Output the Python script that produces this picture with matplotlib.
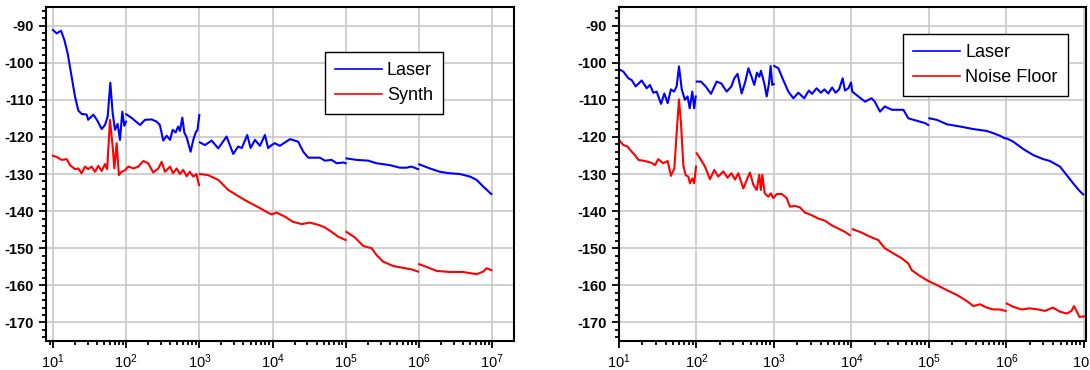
import numpy as np
import matplotlib
matplotlib.use("Agg")
import matplotlib.pyplot as plt
from matplotlib.ticker import MultipleLocator, FixedLocator, LogLocator, NullFormatter

plt.rcParams['font.family'] = ['Liberation Sans', 'DejaVu Sans']
plt.rcParams['mathtext.fontset'] = 'custom'
plt.rcParams['mathtext.rm'] = 'Liberation Sans:bold'
plt.rcParams['mathtext.it'] = 'Liberation Sans:bold'
plt.rcParams['axes.unicode_minus'] = False

nan = np.nan

# frequency as decade exponent (10**x Hz), level in dBc/Hz; nan splits the sweep segments
synth_laser_x = [
    1.0, 1.05, 1.11, 1.155, 1.20, 1.246, 1.30, 1.346, 1.39, 1.46, 1.48, 1.55, 1.60, 1.665,
    1.71, 1.747, 1.783, 1.815, 1.847, 1.883, 1.915, 1.947, 1.974, 1.997, nan,
    2.0, 2.075, 2.19, 2.257, 2.35, 2.416, 2.46, 2.507, 2.553, 2.60, 2.635, 2.676, 2.71,
    2.735, 2.767, 2.794, 2.826, 2.88, 2.917, 2.95, 2.975, 2.999, nan,
    3.008, 3.076, 3.168, 3.258, 3.372, 3.463, 3.53, 3.58, 3.654, 3.70, 3.76, 3.828, 3.896,
    3.94, 3.988, 4.03, 4.10, 4.24, 4.35, 4.42, 4.488, 4.647, 4.716, 4.807, 4.876, 4.97, 5.0, nan,
    5.01, 5.149, 5.307, 5.42, 5.60, 5.74, 5.83, 5.90, 5.99, nan,
    6.004, 6.15, 6.287, 6.42, 6.56, 6.70, 6.79, 6.88, 6.99,
]
synth_laser_y = [
    -91.2, -92.1, -91.4, -93.9, -97.5, -102.8, -109.1, -112.9, -113.8, -114.0, -115.4, -114.0,
    -115.4, -117.9, -116.8, -114.5, -105.4, -113.6, -118.1, -116.5, -120.8, -113.2, -117.0, -115.9, nan,
    -113.9, -114.9, -116.8, -115.4, -115.3, -115.9, -116.8, -121.0, -119.7, -120.8, -118.1,
    -118.8, -117.2, -118.4, -114.8, -118.8, -120.1, -124.0, -120.8, -118.8, -118.1, -114.1, nan,
    -121.5, -122.2, -121.0, -123.1, -119.9, -124.6, -122.6, -123.0, -119.5, -123.0, -120.8,
    -122.4, -119.5, -123.0, -122.2, -121.7, -122.4, -120.6, -121.3, -124.0, -125.6, -125.6,
    -126.4, -126.2, -127.1, -126.9, -127.1, nan,
    -125.8, -126.2, -126.4, -127.1, -127.6, -128.3, -128.3, -128.0, -128.7, nan,
    -127.4, -128.5, -129.4, -129.8, -130.0, -130.7, -131.6, -133.4, -135.4,
]

synth_x = [
    1.0, 1.05, 1.118, 1.187, 1.232, 1.30, 1.346, 1.39, 1.437, 1.48, 1.528, 1.574, 1.619, 1.665,
    1.71, 1.74, 1.779, 1.815, 1.838, 1.87, 1.90, 1.938, 1.983,
    2.03, 2.10, 2.166, 2.234, 2.30, 2.37, 2.44, 2.485, 2.53, 2.60, 2.64, 2.69, 2.735, 2.78,
    2.826, 2.87, 2.917, 2.96, 2.995, nan,
    3.008, 3.12, 3.26, 3.395, 3.51, 3.62, 3.828, 3.955, 3.988, 4.056, 4.17, 4.28, 4.40, 4.51,
    4.624, 4.716, 4.807, 4.898, 5.0, nan,
    5.01, 5.126, 5.24, 5.354, 5.42, 5.51, 5.65, 5.785, 5.90, 5.99, nan,
    6.004, 6.10, 6.24, 6.42, 6.60, 6.79, 6.88, 6.925, 6.99,
]
synth_y = [
    -125.1, -125.4, -126.2, -126.0, -127.6, -128.7, -128.5, -129.8, -128.0, -128.7, -128.0,
    -129.4, -127.8, -129.2, -127.3, -128.7, -115.4, -122.6, -128.5, -121.7, -130.3, -129.4, -129.0,
    -128.0, -128.5, -128.0, -126.5, -127.1, -129.6, -128.5, -126.7, -129.4, -128.0, -129.8,
    -128.5, -130.0, -128.9, -130.6, -129.4, -130.7, -130.0, -133.0, nan,
    -130.0, -130.3, -131.6, -134.3, -135.7, -137.0, -139.2, -140.6, -140.9, -140.4, -141.5,
    -142.9, -143.5, -143.1, -143.7, -144.4, -145.6, -146.9, -147.8, nan,
    -145.6, -147.1, -149.4, -150.0, -151.8, -153.6, -154.8, -155.3, -155.7, -156.3, nan,
    -154.3, -155.0, -156.1, -156.4, -156.4, -157.0, -156.3, -155.4, -155.9,
]

floor_laser_x = [
    1.0, 1.056, 1.12, 1.164, 1.215, 1.293, 1.357, 1.40, 1.443, 1.486, 1.542, 1.585, 1.628, 1.67,
    1.71, 1.744, 1.774, 1.81, 1.85, 1.885, 1.912, 1.946, 1.97, 1.99, nan,
    2.003, 2.058, 2.118, 2.187, 2.26, 2.32, 2.39, 2.45, 2.488, 2.53, 2.583, 2.63, 2.67, 2.71,
    2.746, 2.78, 2.81, 2.832, 2.875, 2.906, 2.935, 2.957, 2.978, 2.996, nan,
    3.004, 3.056, 3.12, 3.185, 3.25, 3.314, 3.39, 3.45, 3.49, 3.55, 3.605, 3.65, 3.70, 3.75,
    3.795, 3.84, 3.886, 3.915, 3.96, 3.994, 4.01, 4.088, 4.174, 4.26, 4.30, 4.368, 4.43, 4.52,
    4.67, 4.733, 4.80, 4.884, 4.95, 4.99, nan,
    5.005, 5.10, 5.23, 5.40, 5.573, 5.745, 5.83, 5.916, 5.98,
    6.003, 6.088, 6.218, 6.346, 6.475, 6.56, 6.69, 6.777, 6.86, 6.94, 6.99,
]
floor_laser_y = [
    -101.8, -102.4, -104.2, -104.7, -106.4, -104.8, -106.9, -106.0, -108.1, -107.8, -111.1,
    -108.3, -110.9, -107.2, -107.8, -106.4, -101.0, -107.2, -110.0, -109.1, -112.3, -107.8,
    -112.3, -109.1, nan,
    -105.1, -105.1, -106.4, -108.4, -105.1, -105.6, -107.8, -106.4, -104.2, -103.0, -108.3,
    -105.1, -101.5, -103.8, -106.0, -102.7, -103.8, -102.2, -105.6, -109.1, -105.6, -100.9,
    -106.0, -105.8, nan,
    -100.9, -101.5, -104.7, -107.8, -109.6, -108.1, -109.6, -107.5, -108.4, -106.9, -108.1,
    -107.2, -108.3, -106.7, -108.1, -107.2, -104.2, -107.5, -106.9, -105.3, -107.8, -109.1,
    -110.5, -109.6, -110.5, -113.2, -111.8, -112.7, -112.7, -115.0, -115.4, -115.9, -116.3, -116.8, nan,
    -115.0, -115.4, -116.6, -117.2, -117.9, -118.4, -119.0, -119.7, -120.4,
    -120.4, -121.3, -123.3, -124.9, -126.0, -126.5, -128.0, -130.3, -132.5, -134.5, -135.5,
]

floor_x = [
    1.0, 1.056, 1.11, 1.164, 1.206, 1.25, 1.335, 1.42, 1.465, 1.507, 1.57, 1.628, 1.67, 1.714,
    1.744, 1.774, 1.80, 1.83, 1.86, 1.894, 1.916, 1.946, 1.97, 1.994, nan,
    2.003, 2.058, 2.11, 2.174, 2.23, 2.28, 2.346, 2.40, 2.45, 2.497, 2.54, 2.604, 2.66, 2.69,
    2.735, 2.777, 2.81, 2.83, 2.85, 2.88, 2.927, 2.96, 2.99,
    3.035, 3.10, 3.164, 3.206, 3.27, 3.335, 3.40, 3.486, 3.572, 3.658, 3.744, 3.83, 3.916, 3.98, nan,
    4.016, 4.11, 4.24, 4.346, 4.43, 4.54, 4.648, 4.733, 4.777, 4.884, 4.99, 5.10, 5.23, 5.36,
    5.486, 5.573, 5.658, 5.745, 5.83, 5.916, 5.99, nan,
    6.003, 6.088, 6.196, 6.30, 6.41, 6.497, 6.60, 6.69, 6.777, 6.84, 6.87, 6.91, 6.94, 7.0,
]
floor_y = [
    -120.8, -122.2, -122.6, -124.0, -124.9, -126.2, -126.5, -127.0, -127.6, -126.0, -127.1,
    -126.5, -130.5, -128.5, -119.0, -109.9, -116.3, -127.6, -130.3, -130.7, -132.5, -131.2,
    -132.5, -128.0, nan,
    -124.4, -126.2, -128.0, -131.4, -128.9, -130.7, -129.3, -131.0, -129.8, -131.5, -129.8,
    -133.9, -131.0, -129.6, -133.0, -134.3, -130.2, -134.3, -130.2, -135.2, -136.1, -135.2, -136.5,
    -135.4, -135.4, -136.5, -138.8, -138.6, -139.0, -140.4, -141.1, -142.0, -142.6, -143.8,
    -144.7, -145.6, -146.5, nan,
    -144.9, -145.6, -146.9, -147.8, -150.0, -151.4, -152.7, -154.1, -155.9, -157.5, -158.8,
    -159.9, -161.3, -162.6, -164.2, -165.6, -165.1, -166.0, -166.5, -166.5, -166.9, nan,
    -164.9, -165.8, -166.5, -166.2, -166.5, -166.9, -166.0, -167.1, -167.6, -166.9, -165.6,
    -167.1, -168.5, -168.4,
]

decades = [1e1, 1e2, 1e3, 1e4, 1e5, 1e6, 1e7]

panels = [
    (synth_laser_x, synth_laser_y, synth_x, synth_y, "Synth"),
    (floor_laser_x, floor_laser_y, floor_x, floor_y, "Noise Floor"),
]

fig = plt.figure(figsize=(10.9, 3.7), dpi=100)
ax_left = fig.add_axes([46 / 1090, 29 / 370, 468 / 1090, 334 / 370])
ax_right = fig.add_axes([619 / 1090, 29 / 370, 467 / 1090, 334 / 370])
xlims = [(10 ** 0.904, 10 ** 7.30), (10, 10 ** 7.026)]
legend_anchor = [(0.848, 0.865), (0.961, 0.919)]

for i, ax in enumerate([ax_left, ax_right]):
    lx, ly, nx, ny, name = panels[i]
    ax.plot(np.power(10.0, lx), ly, color="#0000ff", lw=1.5, label="Laser")
    ax.plot(np.power(10.0, nx), ny, color="#ff0000", lw=1.5, label=name)
    ax.set_xscale("log")
    ax.set_xlim(*xlims[i])
    ax.set_ylim(-175, -85)
    ax.yaxis.set_major_locator(MultipleLocator(10))
    ax.yaxis.set_minor_locator(MultipleLocator(2))
    ax.xaxis.set_major_locator(FixedLocator(decades))
    ax.xaxis.set_minor_locator(LogLocator(base=10, subs=np.arange(2, 10), numticks=20))
    ax.xaxis.set_minor_formatter(NullFormatter())
    ax.grid(True, which="major", color="#c8c8c8", lw=1.2)
    ax.set_axisbelow(True)
    for s in ax.spines.values():
        s.set_linewidth(1.5)
    ax.tick_params(which="both", direction="out", width=1.3, labelsize=10.5, top=False, right=False)
    ax.tick_params(which="major", length=5)
    ax.tick_params(which="minor", length=3)
    for lab in ax.get_yticklabels():
        lab.set_fontweight("bold")
    leg = ax.legend(loc="upper right", bbox_to_anchor=legend_anchor[i], fontsize=13,
                    frameon=True, fancybox=False, edgecolor="black", framealpha=1,
                    handlelength=2.6, handletextpad=0.3, labelspacing=0.45, borderpad=0.55,
                    borderaxespad=0)
    leg.get_frame().set_linewidth(1.0)
    for ln in leg.get_lines():
        ln.set_linewidth(1.2)

fig.savefig("out.png", dpi=100)
